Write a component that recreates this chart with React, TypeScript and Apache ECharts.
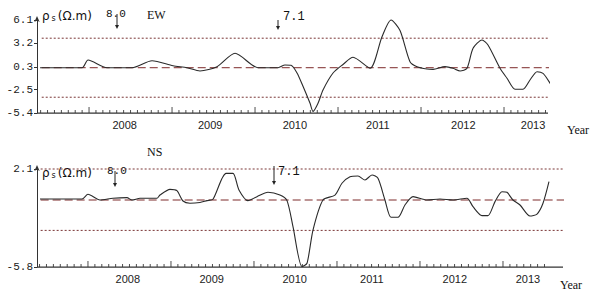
import React, { useEffect, useRef } from "react";
import * as echarts from "echarts";

// EW component (top panel)
const ewYears = [2007.41, 2007.916, 2007.988, 2008.217, 2008.518, 2008.759, 2009.012, 2009.181, 2009.337, 2009.542, 2009.759, 2010.036, 2010.277, 2010.361, 2010.434, 2010.506, 2010.578, 2010.663, 2010.699, 2010.759, 2010.819, 2010.94, 2011.06, 2011.181, 2011.386, 2011.53, 2011.639, 2011.747, 2011.867, 2011.952, 2012.072, 2012.145, 2012.289, 2012.386, 2012.47, 2012.554, 2012.627, 2012.735, 2012.807, 2012.952, 2013.036, 2013.133, 2013.229, 2013.313, 2013.398, 2013.47, 2013.554, 2013.651];
const ewValues = [0.2, 0.2, 1.15, 0.2, 0.2, 1.07, 0.45, 0.2, -0.2, 0.33, 1.98, 0.2, 0.2, 0.54, 0.5, -0.45, -2.1, -4.2, -5.2, -4.2, -2.55, -0.45, 0.6, 1.49, 0.13, 4.04, 6.1, 4.8, 0.95, 0.33, 0.04, 0.0, 0.33, 0.13, -0.2, 0.13, 2.6, 3.63, 3.0, 0.13, -1.1, -2.47, -2.47, -1.32, -0.29, -0.5, -1.7, -3.38];

// NS component (bottom panel)
const nsYears = [2007.422, 2007.928, 2008.0, 2008.145, 2008.301, 2008.47, 2008.53, 2008.627, 2008.831, 2008.867, 2008.988, 2009.072, 2009.145, 2009.229, 2009.349, 2009.434, 2009.506, 2009.663, 2009.747, 2009.819, 2009.928, 2010.036, 2010.169, 2010.313, 2010.398, 2010.47, 2010.578, 2010.639, 2010.711, 2010.831, 2010.976, 2011.06, 2011.157, 2011.253, 2011.337, 2011.422, 2011.494, 2011.578, 2011.651, 2011.735, 2011.819, 2011.916, 2012.084, 2012.241, 2012.398, 2012.566, 2012.639, 2012.747, 2012.819, 2012.904, 2012.988, 2013.048, 2013.12, 2013.205, 2013.325, 2013.41, 2013.482, 2013.554];
const nsValues = [-0.32, -0.32, 0.06, -0.4, -0.26, -0.21, -0.4, -0.26, -0.26, 0.0, 0.46, 0.35, -0.48, -0.66, -0.6, -0.45, -0.34, 1.75, 1.75, 0.41, -0.45, -0.13, 0.22, 0.0, -0.45, -2.55, -5.77, -5.5, -2.82, -0.4, 0.0, 0.95, 1.48, 1.54, 1.21, 1.62, 1.35, -0.4, -1.79, -1.79, -0.8, -0.13, -0.4, -0.32, -0.4, -0.26, -0.94, -1.66, -1.66, -0.53, 0.27, 0.22, -0.4, -0.8, -1.69, -1.53, -0.66, 1.08];

// reference levels: [mean, upper, lower]
const ewLevels = [0.2, 3.85, -3.45];
const nsLevels = [-0.4, 2.1, -2.85];
const refSpan = [2007.43, 2013.74];

// tick labels
const ewTickValues = [6.1, 3.2, 0.3, -2.5, -5.4];
const ewTickLabels = ["6.1", "3.2", "0.3", "-2.5", "-5.4"];
const nsTickValues = [2.1, -5.8];
const nsTickLabels = ["2.1", "-5.8"];
const yearLabels = ["2008", "2009", "2010", "2011", "2012", "2013"];
const ewYearLabelPos = [2008.43, 2009.46, 2010.48, 2011.48, 2012.51, 2013.35];
const nsYearLabelPos = [2008.48, 2009.49, 2010.49, 2011.42, 2012.42, 2013.3];
const yearStarts = [2008, 2009, 2010, 2011, 2012, 2013];

function monthTicks(lo: number, hi: number) {
  const out: number[] = [];
  for (let y = 2007; y <= 2013; y++) {
    for (let m = 1; m < 12; m++) {
      const t = y + m / 12;
      if (t >= lo && t <= hi) out.push(t);
    }
  }
  return out;
}

const AXIS = "#333";
const LINE = "#2a2a2a";
const DASH = "#7d2a2a";
const DOT = "#7a3636";

function xAxisFor(grid: number, min: number, max: number, labelPos: number[]) {
  return {
    type: "value", gridIndex: grid, min, max,
    axisLine: { show: false, onZero: false },
    axisTick: { show: false },
    axisLabel: {
      show: true, customValues: labelPos, margin: 6, fontSize: 11, color: "#222", fontFamily: "Liberation Sans",
      formatter: (v: number) => {
        const i = labelPos.findIndex((p) => Math.abs(p - v) < 1e-6);
        return i >= 0 ? yearLabels[i] : "";
      },
    },
    splitLine: { show: false },
  };
}

function yAxisFor(grid: number, min: number, max: number, vals: number[], labels: string[]) {
  return {
    type: "value", gridIndex: grid, min, max,
    axisLine: { show: true, onZero: false, lineStyle: { color: AXIS, width: 1 }, symbol: ["none", "arrow"], symbolSize: [4, 6], symbolOffset: [0, 4] },
    axisTick: { show: true, length: 3, customValues: vals, lineStyle: { color: AXIS } },
    axisLabel: {
      show: true, customValues: vals, margin: 4, fontSize: 11, color: "#222", fontFamily: "Liberation Mono",
      formatter: (v: number) => {
        const i = vals.findIndex((p) => Math.abs(p - v) < 1e-6);
        return i >= 0 ? labels[i] : "";
      },
    },
    splitLine: { show: false },
  };
}

function refSeries(idx: number, level: number, dashed: boolean) {
  return {
    type: "line", xAxisIndex: idx, yAxisIndex: idx, clip: false, silent: true,
    showSymbol: false, symbol: "none",
    data: [[refSpan[0], level], [refSpan[1], level]],
    lineStyle: dashed ? { color: DASH, width: 1, type: [8, 4] } : { color: DOT, width: 1, type: [2, 2] },
    z: 1,
  };
}

function ticks(idx: number, values: number[], yMin: number, len: number) {
  return {
    type: "scatter", xAxisIndex: idx, yAxisIndex: idx, clip: false, silent: true,
    symbol: "rect", symbolSize: [1, len], symbolOffset: [0, -len / 2],
    itemStyle: { color: "#222" },
    data: values.map((t) => [t, yMin]),
    z: 4,
  };
}

function arrow(x: number, y1: number, y2: number) {
  return {
    type: "group",
    children: [
      { type: "line", shape: { x1: x, y1, x2: x, y2: y2 - 2 }, style: { stroke: "#222", lineWidth: 1 } },
      { type: "polygon", shape: { points: [[x - 2, y2 - 4], [x + 2, y2 - 4], [x, y2]] }, style: { fill: "#222" } },
    ],
  };
}

// x-axis baseline as a thin filled bar (axis decoration)
function axisBase(x1: number, x2: number, y: number) {
  return { type: "rect", z: 100, shape: { x: x1, y: y - 0.5, width: x2 - x1, height: 1.2 }, style: { fill: AXIS } };
}

function label(text: string, x: number, y: number, font: string, size: number) {
  return { type: "text", x, y, style: { text, fontFamily: font, fontSize: size, fill: "#111", textVerticalAlign: "middle" } };
}

function rhoLabel(x: number, y: number) {
  return {
    type: "text", x, y,
    style: {
      text: "{a|ρ}{s|s}{a|(Ω.m)}",
      textVerticalAlign: "middle",
      rich: {
        a: { fontSize: 12, fontFamily: "DejaVu Sans", fill: "#111" },
        s: { fontSize: 8, fontFamily: "DejaVu Sans", fill: "#111", padding: [4, 2, 0, 2] },
      },
    },
  };
}

export default function App() {
  const ref = useRef<HTMLDivElement>(null);
  useEffect(() => {
    if (!ref.current) return;
    const chart = echarts.init(ref.current, null, { renderer: "svg" });
    const topMin = 2007.373, topMax = 2013.53;
    const botMin = 2007.386, botMax = 2013.723;
    const option = {
      animation: false,
      backgroundColor: "#fff",
      grid: [
        { left: 37, top: 20, right: 44, height: 93 },
        { left: 37, top: 169, right: 29, height: 98 },
      ],
      xAxis: [
        xAxisFor(0, topMin, topMax, ewYearLabelPos),
        xAxisFor(1, botMin, botMax, nsYearLabelPos),
      ],
      yAxis: [
        yAxisFor(0, -5.4, 6.1, ewTickValues, ewTickLabels),
        yAxisFor(1, -5.8, 2.1, nsTickValues, nsTickLabels),
      ],
      series: [
        refSeries(0, ewLevels[0], true),
        refSeries(0, ewLevels[1], false),
        refSeries(0, ewLevels[2], false),
        refSeries(1, nsLevels[0], true),
        refSeries(1, nsLevels[1], false),
        refSeries(1, nsLevels[2], false),
        ticks(0, monthTicks(topMin, 2013.53), -5.4, 3),
        ticks(1, monthTicks(botMin, 2013.55), -5.8, 3),
        ticks(0, yearStarts, -5.4, 6),
        ticks(1, yearStarts, -5.8, 6),
        {
          name: "EW", type: "line", xAxisIndex: 0, yAxisIndex: 0, clip: false,
          showSymbol: false, symbol: "none", smooth: 0.25,
          data: ewYears.map((t, i) => [t, ewValues[i]]),
          lineStyle: { color: LINE, width: 1.1 }, z: 3,
        },
        {
          name: "NS", type: "line", xAxisIndex: 1, yAxisIndex: 1, clip: false,
          showSymbol: false, symbol: "none", smooth: 0.25,
          data: nsYears.map((t, i) => [t, nsValues[i]]),
          lineStyle: { color: LINE, width: 1.1 }, z: 3,
        },
      ],
      graphic: [
        axisBase(37, 548, 113),
        axisBase(37, 563, 267),
        rhoLabel(42, 16),
        label("8.0", 106, 14, "Liberation Mono", 11),
        arrow(117, 14, 29),
        label("EW", 147, 15, "Liberation Serif", 12),
        label("7.1", 283, 17, "Liberation Mono", 12),
        arrow(278, 20, 30),
        label("Year", 567, 130, "Liberation Serif", 12),
        label("NS", 147, 152, "Liberation Serif", 12),
        rhoLabel(42, 173),
        label("8.0", 107, 171, "Liberation Mono", 11),
        arrow(115, 171, 187),
        label("7.1", 278, 172, "Liberation Mono", 12),
        arrow(274, 166, 185),
        label("Year", 560, 285, "Liberation Serif", 12),
      ],
    };
    chart.setOption(option as any);
    return () => chart.dispose();
  }, []);
  return (
    <div
      ref={ref}
      style={{ position: "absolute", left: 0, top: 0, width: 592, height: 291 }}
    />
  );
}
